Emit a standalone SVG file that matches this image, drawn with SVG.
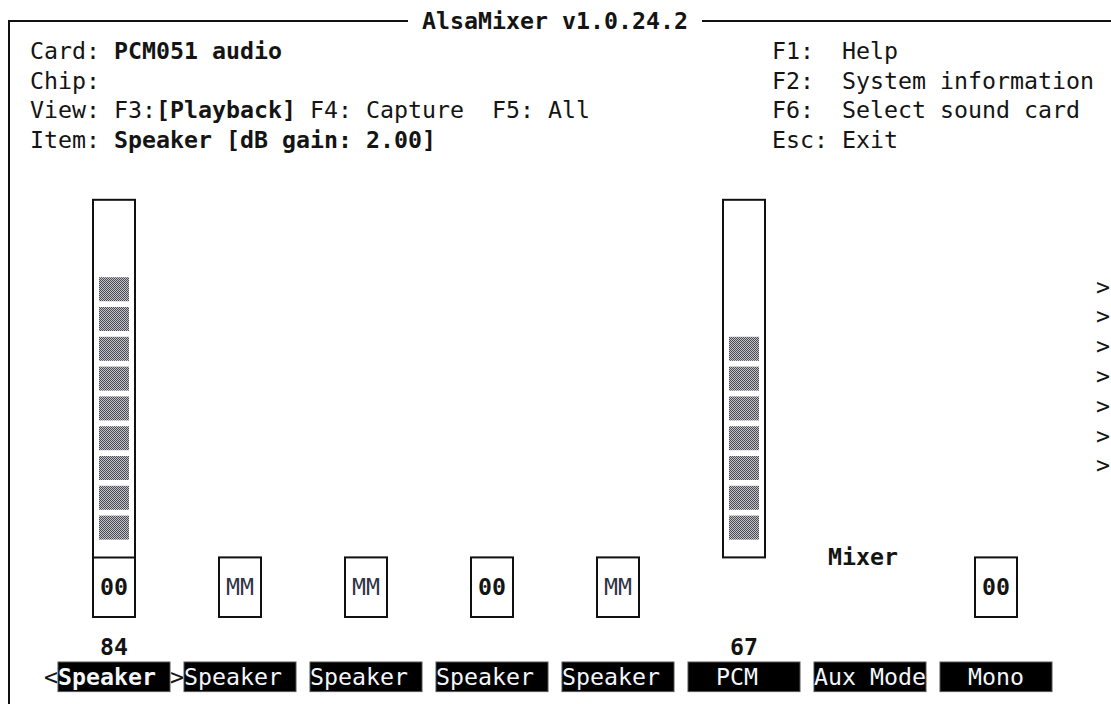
<svg xmlns="http://www.w3.org/2000/svg" width="1111" height="704" viewBox="0 0 1111 704">
<defs>
<pattern id="shade" patternUnits="userSpaceOnUse" width="2" height="2">
<rect width="2" height="2" fill="#c4c4c8"/>
<rect x="0" y="0" width="1" height="1" fill="#4a4a55"/>
<rect x="1" y="1" width="1" height="1" fill="#4a4a55"/>
</pattern>
<style>
text{font-family:"DejaVu Sans Mono","Liberation Mono",monospace;font-size:23.25px;fill:#141414;white-space:pre}
.b{font-weight:bold}
.w{fill:#f2f6fa}
.mm{fill:#2e3446}
.ln{stroke:#111;stroke-width:2;fill:none}
.lb{fill:#000;stroke:#555;stroke-width:1}
.bar{fill:url(#shade)}
</style>
</defs>
<rect width="1111" height="704" fill="#fff"/>
<g id="frame">
<path class="ln" d="M9 704 V21 H408 M702 21 H1111"/>
<text x="422" y="29" class="b">AlsaMixer v1.0.24.2</text>
</g>
<g id="header">
<text x="30" y="58.8">Card: <tspan class="b">PCM051 audio</tspan></text>
<text x="30" y="88.6">Chip:</text>
<text x="30" y="118.4">View: F3:<tspan class="b">[Playback]</tspan> F4: Capture  F5: All</text>
<text x="30" y="148.2">Item: <tspan class="b">Speaker [dB gain: 2.00]</tspan></text>
<text x="772" y="58.8">F1:  Help</text>
<text x="772" y="88.6">F2:  System information</text>
<text x="772" y="118.4">F6:  Select sound card</text>
<text x="772" y="148.2">Esc: Exit</text>
</g>
<g id="speaker1">
<rect class="ln" x="93" y="199.8" width="42" height="417.2"/>
<path class="ln" d="M93 557.4 H135"/>
<rect class="bar" x="99" y="277.2" width="30" height="24"/>
<rect class="bar" x="99" y="307" width="30" height="24"/>
<rect class="bar" x="99" y="336.8" width="30" height="24"/>
<rect class="bar" x="99" y="366.6" width="30" height="24"/>
<rect class="bar" x="99" y="396.4" width="30" height="24"/>
<rect class="bar" x="99" y="426.2" width="30" height="24"/>
<rect class="bar" x="99" y="456" width="30" height="24"/>
<rect class="bar" x="99" y="485.8" width="30" height="24"/>
<rect class="bar" x="99" y="515.6" width="30" height="24"/>
<text x="100" y="595.2" class="b">00</text>
<text x="100" y="654.8" class="b">84</text>
<text x="44" y="684.6">&lt;</text>
<rect class="lb" x="58" y="662" width="112" height="29.6"/>
<text x="58" y="684.6" class="w b">Speaker</text>
<text x="170" y="684.6">&gt;</text>
</g>
<g id="speaker2">
<rect class="ln" x="219" y="557.4" width="42" height="59.6"/>
<text x="226" y="595.2" class="mm">MM</text>
<rect class="lb" x="184" y="662" width="112" height="29.6"/>
<text x="184" y="684.6" class="w">Speaker</text>
</g>
<g id="speaker3">
<rect class="ln" x="345" y="557.4" width="42" height="59.6"/>
<text x="352" y="595.2" class="mm">MM</text>
<rect class="lb" x="310" y="662" width="112" height="29.6"/>
<text x="310" y="684.6" class="w">Speaker</text>
</g>
<g id="speaker4">
<rect class="ln" x="471" y="557.4" width="42" height="59.6"/>
<text x="478" y="595.2" class="b">00</text>
<rect class="lb" x="436" y="662" width="112" height="29.6"/>
<text x="436" y="684.6" class="w">Speaker</text>
</g>
<g id="speaker5">
<rect class="ln" x="597" y="557.4" width="42" height="59.6"/>
<text x="604" y="595.2" class="mm">MM</text>
<rect class="lb" x="562" y="662" width="112" height="29.6"/>
<text x="562" y="684.6" class="w">Speaker</text>
</g>
<g id="pcm">
<rect class="ln" x="723" y="199.8" width="42" height="357.6"/>
<rect class="bar" x="729" y="336.8" width="30" height="24"/>
<rect class="bar" x="729" y="366.6" width="30" height="24"/>
<rect class="bar" x="729" y="396.4" width="30" height="24"/>
<rect class="bar" x="729" y="426.2" width="30" height="24"/>
<rect class="bar" x="729" y="456" width="30" height="24"/>
<rect class="bar" x="729" y="485.8" width="30" height="24"/>
<rect class="bar" x="729" y="515.6" width="30" height="24"/>
<text x="730" y="654.8" class="b">67</text>
<rect class="lb" x="688" y="662" width="112" height="29.6"/>
<text x="716" y="684.6" class="w">PCM</text>
</g>
<g id="auxmode">
<text x="828" y="565.4" class="b">Mixer</text>
<rect class="lb" x="814" y="662" width="112" height="29.6"/>
<text x="814" y="684.6" class="w">Aux Mode</text>
</g>
<g id="mono">
<rect class="ln" x="975" y="557.4" width="42" height="59.6"/>
<text x="982" y="595.2" class="b">00</text>
<rect class="lb" x="940" y="662" width="112" height="29.6"/>
<text x="968" y="684.6" class="w">Mono</text>
</g>
<g id="scroll-markers" style="font-size:14px">
<text x="1096" y="294.5">&gt;</text>
<text x="1096" y="324.3">&gt;</text>
<text x="1096" y="354.1">&gt;</text>
<text x="1096" y="383.9">&gt;</text>
<text x="1096" y="413.7">&gt;</text>
<text x="1096" y="443.5">&gt;</text>
<text x="1096" y="473.3">&gt;</text>
</g>
</svg>
